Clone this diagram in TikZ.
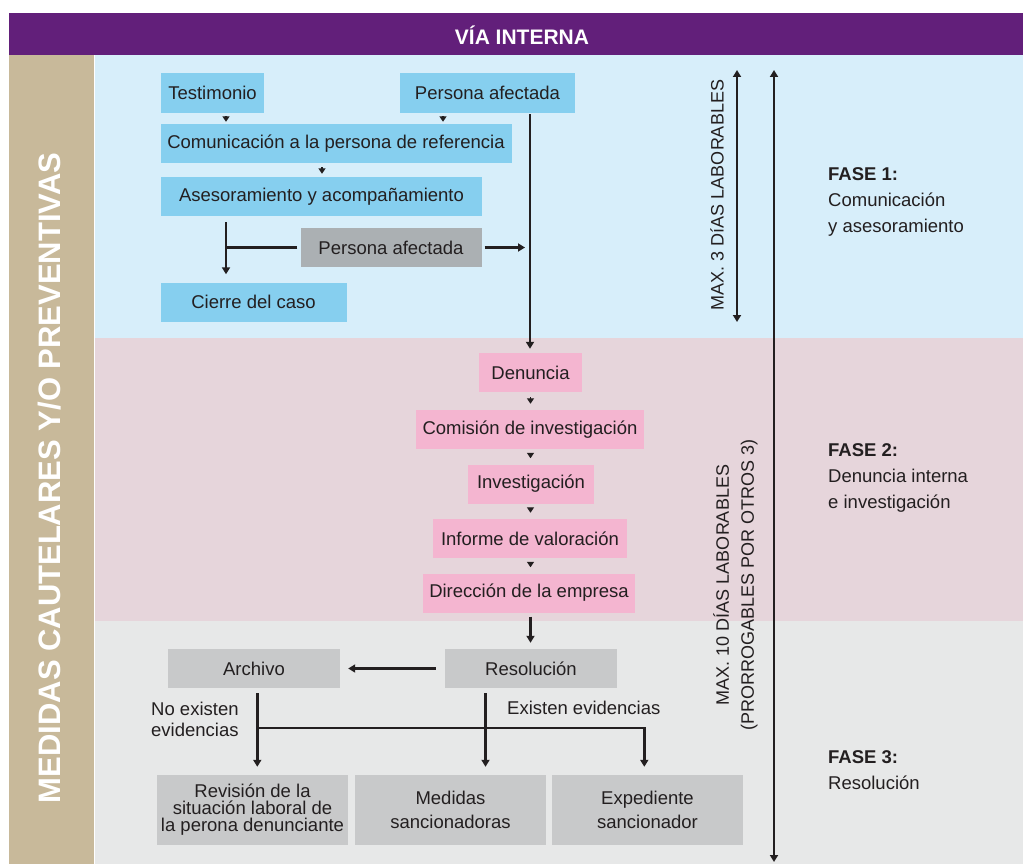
\documentclass[tikz,border=0pt]{standalone}
\usepackage{fontspec}
\setmainfont{Liberation Sans}
\usetikzlibrary{arrows.meta}
\definecolor{purp}{RGB}{98,31,122}
\definecolor{beige}{RGB}{200,185,154}
\definecolor{bgblue}{RGB}{215,238,250}
\definecolor{boxblue}{RGB}{134,207,239}
\definecolor{bgpink}{RGB}{230,213,219}
\definecolor{boxpink}{RGB}{244,181,208}
\definecolor{bggrey}{RGB}{231,232,232}
\definecolor{boxgrey}{RGB}{200,201,202}
\definecolor{boxdark}{RGB}{171,176,179}
\definecolor{txt}{RGB}{35,31,32}
\begin{document}
\begin{tikzpicture}[x=1pt,y=-1pt,
  box/.style={inner sep=0pt, minimum height=39pt, align=center, text=txt,
    font=\fontsize{18.5}{24}\selectfont},
  bluebox/.style={box, fill=boxblue},
  pinkbox/.style={box, fill=boxpink},
  greybox/.style={box, fill=boxgrey},
  darkbox/.style={box, fill=boxdark},
  conn/.style={draw=txt, line width=2.4pt},
  arr/.style={conn, -{Triangle[length=7pt,width=8pt]}},
  smallarr/.style={draw=txt, line width=1.8pt, -{Triangle[length=5.5pt,width=7pt]}},
  dblarr/.style={conn, {Triangle[length=7pt,width=8pt]}-{Triangle[length=7pt,width=8pt]}},
  lbl/.style={inner sep=0pt, text=txt, font=\fontsize{18.5}{22}\selectfont},
  phase/.style={inner sep=0pt, text=txt, anchor=north west, align=left,
    font=\fontsize{18.5}{26}\selectfont},
]
% background
\useasboundingbox (0,0) rectangle (1023,864);
\fill[white] (0,0) rectangle (1023,864);
\fill[purp] (9,13) rectangle (1023,55);
\fill[beige] (9,55) rectangle (94,864);
\fill[bgblue] (95,55) rectangle (1023,338);
\fill[bgpink] (95,338) rectangle (1023,621);
\fill[bggrey] (95,621) rectangle (1023,864);

\node[text=white, inner sep=0pt, font=\bfseries\fontsize{21}{21}\selectfont] (via) at (522,35) {VÍA INTERNA};
\node[rotate=90, text=white, inner sep=0pt, font=\bfseries\fontsize{31}{31}\selectfont] (medidas) at (50,478) {MEDIDAS CAUTELARES Y/O PREVENTIVAS};

% phase 1
\node[bluebox, minimum width=103pt, minimum height=40pt] (testimonio) at (212.5,93) {Testimonio};
\node[bluebox, minimum width=175pt, minimum height=40pt] (pa1) at (487.5,93) {Persona afectada};
\node[bluebox, minimum width=351pt] (comun) at (336,143.5) {Comunicación a la persona de referencia};
\node[bluebox, minimum width=321pt] (ases) at (321.5,196.5) {Asesoramiento y acompañamiento};
\node[darkbox, minimum width=181pt] (pa2) at (391,247.5) {Persona afectada};
\node[bluebox, minimum width=186pt] (cierre) at (253.5,302) {Cierre del caso};

% phase 2
\node[pinkbox, minimum width=103pt] (denuncia) at (530.5,372.5) {Denuncia};
\node[pinkbox, minimum width=228pt] (comision) at (530,429.5) {Comisión de investigación};
\node[pinkbox, minimum width=126pt] (investigacion) at (531,484) {Investigación};
\node[pinkbox, minimum width=194pt] (informe) at (530,538.5) {Informe de valoración};
\node[pinkbox, minimum width=212pt] (direccion) at (529,593) {Dirección de la empresa};

% phase 3
\node[greybox, minimum width=172pt] (archivo) at (254,668.5) {Archivo};
\node[greybox, minimum width=172pt] (resolucion) at (531,668.5) {Resolución};
\node[greybox, minimum width=191pt, minimum height=70pt, font=\fontsize{18.5}{17}\selectfont] (revision) at (252.5,810) {Revisión de la\\situación laboral de\\la perona denunciante};
\node[greybox, minimum width=191pt, minimum height=70pt] (medsanc) at (450.5,810) {Medidas\\sancionadoras};
\node[greybox, minimum width=191pt, minimum height=70pt] (expediente) at (647.5,810) {Expediente\\sancionador};

\node[lbl, anchor=west, align=left, font=\fontsize{18.5}{21}\selectfont] (noexist) at (151,719) {No existen\\evidencias};
\node[lbl, anchor=base west] (exist) at (507,714) {Existen evidencias};

% connectors phase 1
\draw[smallarr, shorten <=3pt, shorten >=2pt] ([xshift=13.5pt]testimonio.south) -- ([xshift=13.5pt]testimonio.south |- comun.north);
\draw[smallarr, shorten <=3pt, shorten >=2pt] ([xshift=-44.5pt]pa1.south) -- ([xshift=-44.5pt]pa1.south |- comun.north);
\draw[smallarr, shorten <=4pt, shorten >=3pt] ([xshift=-14pt]comun.south) -- ([xshift=-14pt]comun.south |- ases.north);
\coordinate (a1) at ([xshift=-95.5pt]ases.south);
\draw[arr, shorten <=6pt, shorten >=8pt] (a1) -- (a1 |- cierre.north);
\coordinate (br1) at (a1 |- pa2.west);
\draw[conn, shorten <=3pt] (pa2.west) -- (br1);
\coordinate (vl) at ([xshift=42.5pt]pa1.south);
\draw[conn, shorten <=1pt, -{Triangle[length=7pt,width=8pt]}, shorten >=4pt] (vl) -- (vl |- denuncia.north);
\draw[arr, shorten <=3pt, shorten >=5pt] (pa2.east) -- (pa2.east -| vl);

% connectors phase 2
\draw[smallarr, shorten <=5pt, shorten >=6pt] (denuncia.south) -- (denuncia.south |- comision.north);
\draw[smallarr, shorten <=5pt, shorten >=6pt] (denuncia.south |- comision.south) -- (denuncia.south |- investigacion.north);
\draw[smallarr, shorten <=5pt, shorten >=6pt] (denuncia.south |- investigacion.south) -- (denuncia.south |- informe.north);
\draw[smallarr, shorten <=5pt, shorten >=6pt] (denuncia.south |- informe.south) -- (denuncia.south |- direccion.north);
\draw[arr, shorten <=4pt, shorten >=6pt] (denuncia.south |- direccion.south) -- (denuncia.south |- resolucion.north);

% connectors phase 3
\draw[arr, shorten <=9pt, shorten >=8pt] (resolucion.west) -- (archivo.east);
\coordinate (a2) at ([xshift=3.3pt]archivo.south);
\draw[arr, shorten <=5pt, shorten >=8pt] (a2) -- (a2 |- revision.north);
\coordinate (br2) at ([yshift=-40pt]a2);
\draw[arr, shorten >=8pt] (br2) -| ([xshift=-3.2pt]expediente.north);
\coordinate (r1) at ([xshift=-45.5pt]resolucion.south);
\draw[arr, shorten <=5pt, shorten >=8pt] (r1) -- (r1 |- medsanc.north);

% right side
\coordinate (d3top) at (737,70);
\coordinate (d3bot) at (737,322);
\draw[dblarr] (d3top) -- (d3bot);
\coordinate (d10top) at (774,70);
\coordinate (d10bot) at (774,862);
\draw[dblarr] (d10top) -- (d10bot);
\node[lbl, rotate=90, font=\fontsize{18}{22}\selectfont] (max3) at (717,195) {MAX. 3 DíAS LABORABLES};
\node[lbl, rotate=90, align=center, font=\fontsize{18}{25}\selectfont] (max10) at (735.5,585) {MAX. 10 DÍAS LABORABLES\\(PRORROGABLES POR OTROS 3)};

\node[phase] (fase1) at (828,167) {\textbf{FASE 1:}\\Comunicación\\y asesoramiento};
\node[phase] (fase2) at (828,443) {\textbf{FASE 2:}\\Denuncia interna\\e investigación};
\node[phase] (fase3) at (828,750) {\textbf{FASE 3:}\\Resolución};
\end{tikzpicture}
\end{document}
